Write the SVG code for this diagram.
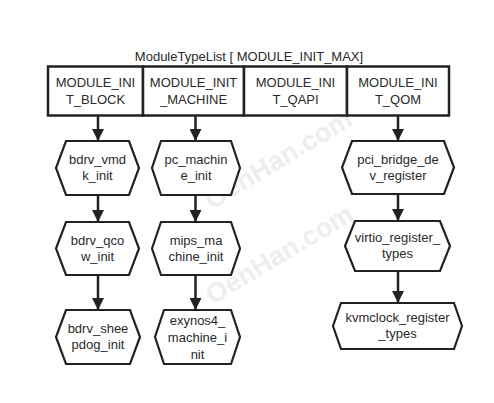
<svg xmlns="http://www.w3.org/2000/svg" width="494" height="403" viewBox="0 0 494 403">
<defs>
<style>
text{font-family:"Liberation Sans",Arial,sans-serif;font-size:13px;fill:#2a2a2a;text-anchor:middle}
.wm{font-size:27px;font-weight:bold;fill:#eeeeee;text-anchor:middle}
.cell{fill:#fff;stroke:#222;stroke-width:2.5}
.hex{fill:#fff;stroke:#222;stroke-width:2.2}
.conn line{stroke:#222;stroke-width:2.5}
</style>
<marker id="ah2" viewBox="0 0 12 12" markerWidth="12" markerHeight="12" refX="12" refY="6" orient="auto" markerUnits="userSpaceOnUse">
<path d="M0,0 L12,6 L0,12 Z" fill="#222"/>
</marker>
</defs>
<rect width="494" height="403" fill="#fff"/>
<g id="watermark">
<text class="wm" transform="translate(283,167) rotate(-31)">OenHan.com</text>
<text class="wm" transform="translate(284,262) rotate(-31)">OenHan.com</text>
</g>
<g id="table">
<text x="249" y="61">ModuleTypeList [ MODULE_INIT_MAX]</text>
<g id="cell_block"><rect class="cell" x="48" y="66.5" width="95" height="49"/><text x="95.5" y="87">MODULE_INI<tspan x="95.5" dy="17">T_BLOCK</tspan></text></g>
<g id="cell_machine"><rect class="cell" x="143" y="66.5" width="101" height="49"/><text x="193.5" y="87">MODULE_INIT<tspan x="193.5" dy="17">_MACHINE</tspan></text></g>
<g id="cell_qapi"><rect class="cell" x="244" y="66.5" width="103" height="49"/><text x="295.5" y="87">MODULE_INI<tspan x="295.5" dy="17">T_QAPI</tspan></text></g>
<g id="cell_qom"><rect class="cell" x="347" y="66.5" width="102" height="49"/><text x="398" y="87">MODULE_INI<tspan x="398" dy="17">T_QOM</tspan></text></g>
</g>
<g class="conn" id="connectors">
<line x1="98" y1="116" x2="98" y2="141" marker-end="url(#ah2)"/>
<line x1="98" y1="195" x2="98" y2="222" marker-end="url(#ah2)"/>
<line x1="98" y1="275" x2="98" y2="310" marker-end="url(#ah2)"/>
<line x1="195.5" y1="116" x2="195.5" y2="141" marker-end="url(#ah2)"/>
<line x1="195.5" y1="195" x2="195.5" y2="222" marker-end="url(#ah2)"/>
<line x1="195.5" y1="275" x2="195.5" y2="310" marker-end="url(#ah2)"/>
<line x1="398" y1="116" x2="398" y2="141" marker-end="url(#ah2)"/>
<line x1="398" y1="194" x2="398" y2="221" marker-end="url(#ah2)"/>
<line x1="398" y1="271" x2="398" y2="303" marker-end="url(#ah2)"/>
</g>
<g id="bdrv_vmdk_init"><polygon class="hex" points="66,141 129,141 139,168 129,195 66,195 56,168"/><text x="97.5" y="164">bdrv_vmd<tspan x="97.5" dy="16">k_init</tspan></text></g>
<g id="bdrv_qcow_init"><polygon class="hex" points="66,222 129,222 139,248.5 129,275 66,275 56,248.5"/><text x="97.5" y="244.5">bdrv_qco<tspan x="97.5" dy="16">w_init</tspan></text></g>
<g id="bdrv_sheepdog_init"><polygon class="hex" points="66,310 130,310 140,337 130,364 66,364 56,337"/><text x="98" y="333">bdrv_shee<tspan x="98" dy="16">pdog_init</tspan></text></g>
<g id="pc_machine_init"><polygon class="hex" points="161,141 231,141 240,168 231,195 161,195 152,168"/><text x="196" y="164">pc_machin<tspan x="196" dy="16">e_init</tspan></text></g>
<g id="mips_machine_init"><polygon class="hex" points="161,222 231,222 240,248.5 231,275 161,275 152,248.5"/><text x="196" y="244.5">mips_ma<tspan x="196" dy="16">chine_init</tspan></text></g>
<g id="exynos4_machine_init"><polygon class="hex" points="164,310 231,310 240,337 231,364 164,364 155,337"/><text x="197.5" y="325">exynos4_<tspan x="197.5" dy="17">machine_i</tspan><tspan x="197.5" dy="17">nit</tspan></text></g>
<g id="pci_bridge_dev_register"><polygon class="hex" points="352,141 444,141 454,167.5 444,194 352,194 342,167.5"/><text x="398" y="164">pci_bridge_de<tspan x="398" dy="16">v_register</tspan></text></g>
<g id="virtio_register_types"><polygon class="hex" points="355,221 440,221 450,246 440,271 355,271 345,246"/><text x="397.5" y="242">virtio_register_<tspan x="397.5" dy="16">types</tspan></text></g>
<g id="kvmclock_register_types"><polygon class="hex" points="341,303 454,303 462,326 454,349 341,349 333,326"/><text x="397.5" y="322">kvmclock_register<tspan x="397.5" dy="16">_types</tspan></text></g>
</svg>
